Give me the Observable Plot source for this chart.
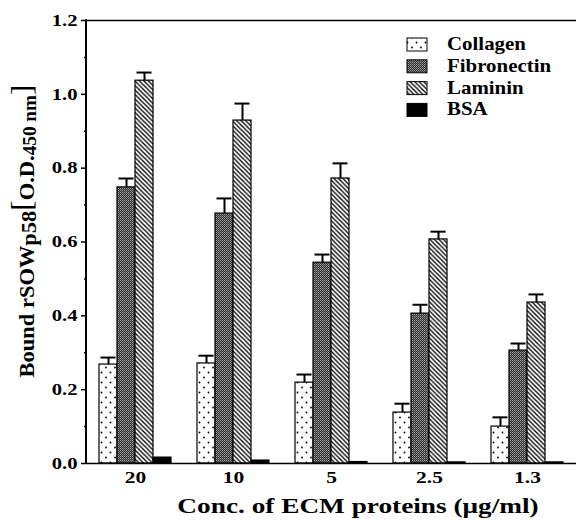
<!DOCTYPE html>
<html><head><meta charset="utf-8">
<script src="https://cdn.jsdelivr.net/npm/d3@7"></script>
<script src="https://cdn.jsdelivr.net/npm/@observablehq/plot@0.6"></script>
<style>
body{margin:0;background:#fff;}
#chart{position:relative;width:577px;height:521px;}
</style></head><body><div id="chart"></div>
<script>
// ---- data ----
const concentrations = ["20", "10", "5", "2.5", "1.3"];
const proteins = ["Collagen", "Fibronectin", "Laminin", "BSA"];
const collagen = [0.268, 0.271, 0.219, 0.138, 0.100];
const collagenErr = [0.019, 0.021, 0.022, 0.024, 0.025];
const fibronectin = [0.748, 0.677, 0.544, 0.406, 0.306];
const fibronectinErr = [0.024, 0.041, 0.022, 0.024, 0.019];
const laminin = [1.037, 0.929, 0.772, 0.607, 0.436];
const lamininErr = [0.022, 0.046, 0.041, 0.021, 0.022];
const bsa = [0.016, 0.008, 0.004, 0.003, 0.003];
const bsaErr = [0, 0, 0, 0, 0];
const yTicks = [0, 0.2, 0.4, 0.6, 0.8, 1.0, 1.2];
const yMinorTicks = [0.1, 0.3, 0.5, 0.7, 0.9, 1.1];
const yLabel = ["Bound rSOW", "p58", "O.D.", "450 nm"];
const xLabel = "Conc. of ECM proteins (\u03bcg/ml)";

const seriesValues = [collagen, fibronectin, laminin, bsa];
const seriesErrs = [collagenErr, fibronectinErr, lamininErr, bsaErr];
const rows = [];
concentrations.forEach((c, i) => proteins.forEach((p, j) =>
  rows.push({conc: c, protein: p, value: seriesValues[j][i], err: seriesErrs[j][i]})));
const errRows = rows.filter(d => d.err > 0);

const patternUrls = ["url(#pat-dots)", "url(#pat-mesh)", "url(#pat-stripes)", "url(#pat-solid)"];
const serif = "'Liberation Serif','Times New Roman',serif";

const plot = Plot.plot({
  width: 577, height: 521,
  marginLeft: 86, marginRight: 1, marginTop: 20, marginBottom: 58,
  style: {fontFamily: serif, fontWeight: "bold", fontSize: "16px", background: "#fff", color: "#000"},
  fx: {domain: concentrations, padding: 0, label: null},
  x: {domain: proteins, paddingInner: 0, paddingOuter: 0.58, axis: null},
  y: {domain: [0, 1.2], label: null},
  color: {domain: proteins, range: patternUrls},
  marks: [
    Plot.barY(rows, {fx: "conc", x: "protein", y: "value", fill: "protein", stroke: "#000", strokeWidth: 1.2}),
    Plot.ruleX(errRows, {fx: "conc", x: "protein", y1: "value", y2: d => d.value + d.err, stroke: "#000", strokeWidth: 2}),
    Plot.tickY(errRows, {fx: "conc", x: "protein", y: d => d.value + d.err, stroke: "#000", strokeWidth: 2, insetLeft: 1.5, insetRight: 1.5}),
    Plot.ruleY([0], {stroke: "#000", strokeWidth: 1.6}),
    Plot.ruleY([1.2], {stroke: "#000", strokeWidth: 1.4}),
    Plot.axisY({ticks: yTicks, tickFormat: d => d.toFixed(1), tickSize: 5, tickPadding: 4, label: null, fontSize: 16.5, strokeWidth: 1.5}),
    Plot.axisY({ticks: yMinorTicks, tickFormat: () => "", tickSize: 2, label: null, strokeWidth: 1.5}),
    Plot.axisFx({anchor: "bottom", tickSize: 0, tickPadding: 8, label: null, fontSize: 16.5})
  ]
});
document.getElementById("chart").appendChild(plot);

const svg = d3.select(plot);
const defs = svg.insert("defs", ":first-child");
// dotted (collagen)
const pd = defs.append("pattern").attr("id", "pat-dots").attr("patternUnits", "userSpaceOnUse").attr("width", 9).attr("height", 10);
pd.append("rect").attr("width", 9).attr("height", 10).attr("fill", "#fff");
pd.append("circle").attr("cx", 2.5).attr("cy", 2.5).attr("r", 0.9).attr("fill", "#000");
pd.append("circle").attr("cx", 7).attr("cy", 7.5).attr("r", 0.9).attr("fill", "#000");
// fine mesh (fibronectin)
const pm = defs.append("pattern").attr("id", "pat-mesh").attr("patternUnits", "userSpaceOnUse").attr("width", 2).attr("height", 2);
pm.append("rect").attr("width", 2).attr("height", 2).attr("fill", "#2e2e2e");
pm.append("rect").attr("width", 1).attr("height", 1).attr("fill", "#a8a8a8");
pm.append("rect").attr("x", 1).attr("y", 1).attr("width", 1).attr("height", 1).attr("fill", "#707070");
// diagonal stripes (laminin)
const ps = defs.append("pattern").attr("id", "pat-stripes").attr("patternUnits", "userSpaceOnUse").attr("width", 4.5).attr("height", 4.5);
ps.append("rect").attr("width", 4.5).attr("height", 4.5).attr("fill", "#fff");
ps.append("path").attr("d", "M-1,-1 L5.5,5.5 M-1,3.5 L1,5.5 M3.5,-1 L5.5,1").attr("stroke", "#000").attr("stroke-width", 1.3);
// solid (BSA)
const pb = defs.append("pattern").attr("id", "pat-solid").attr("patternUnits", "userSpaceOnUse").attr("width", 4).attr("height", 4);
pb.append("rect").attr("width", 4).attr("height", 4).attr("fill", "#000");

// stretch helper for the wide scanned lettering
function stretch(sel, k) {
  sel.each(function () {
    const w = this.getComputedTextLength();
    this.setAttribute("textLength", w * k);
    this.setAttribute("lengthAdjust", "spacingAndGlyphs");
  });
}
stretch(svg.selectAll('g[aria-label="y-axis tick label"] text'), 1.25);
stretch(svg.selectAll('g[aria-label="fx-axis tick label"] text'), 1.3);

// left axis line
const ys = plot.scale("y");
svg.append("line").attr("x1", 86).attr("x2", 86)
  .attr("y1", ys.apply(0) + 0.8).attr("y2", ys.apply(1.2) - 0.7)
  .attr("stroke", "#000").attr("stroke-width", 2);

// x title
const xt = svg.append("text").attr("x", 358).attr("y", 513).attr("text-anchor", "middle")
  .attr("font-size", 22).attr("font-weight", "bold").attr("font-family", serif).text(xLabel);
stretch(xt, 1.24);

// y title
const yt = svg.append("text").attr("text-anchor", "middle").attr("font-size", 21)
  .attr("font-weight", "bold").attr("font-family", serif);
yt.append("tspan").text(yLabel[0]);
yt.append("tspan").attr("dy", 2).text(yLabel[1]);
yt.append("tspan").attr("dy", -5).attr("font-size", 29).attr("font-weight", "normal").text("[");
yt.append("tspan").attr("dy", 3).text(yLabel[2]);
yt.append("tspan").attr("dy", 2).attr("font-size", 18).text(yLabel[3]);
yt.append("tspan").attr("dy", -5).attr("font-size", 29).attr("font-weight", "normal").text("]");
const ylen = yt.node().getComputedTextLength();
yt.attr("transform", `translate(34,231) rotate(-90) scale(${293 / ylen},1)`);

// legend
const legend = svg.append("g").attr("text-anchor", "start");
proteins.forEach((p, i) => {
  const y0 = 38 + i * 21.8;
  legend.append("rect").attr("x", 407).attr("y", y0).attr("width", 20).attr("height", 13)
    .attr("fill", patternUrls[i]).attr("stroke", "#000").attr("stroke-width", 1);
  const t = legend.append("text").attr("x", 447).attr("y", y0 + 12).attr("font-size", 19)
    .attr("text-anchor", "start").attr("font-weight", "bold").attr("font-family", serif).text(p);
  stretch(t, 1.1);
});
</script></body></html>
